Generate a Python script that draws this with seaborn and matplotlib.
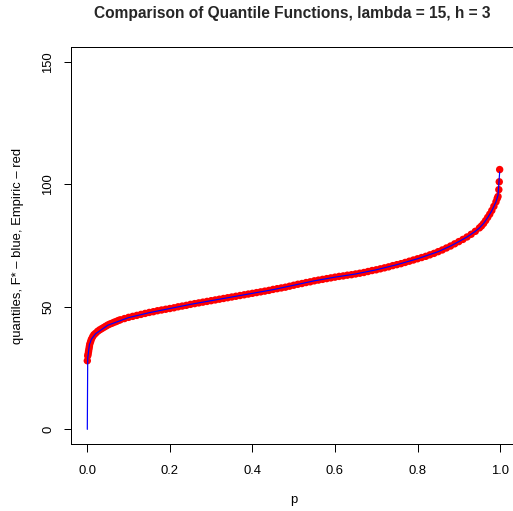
import numpy as np
import pandas as pd
import seaborn as sns
import matplotlib
matplotlib.use("Agg")
import matplotlib.pyplot as plt

emp_p = [0.000, 0.001, 0.002, 0.003, 0.004, 0.005, 0.006, 0.008,
         0.010, 0.013, 0.016, 0.020, 0.025, 0.030, 0.035, 0.040, 0.045,
         0.05, 0.055, 0.06, 0.065, 0.07, 0.075, 0.08, 0.09, 0.10,
         0.11, 0.12, 0.13, 0.14, 0.15, 0.16, 0.17, 0.18, 0.19, 0.20,
         0.21, 0.22, 0.23, 0.24, 0.25, 0.26, 0.27, 0.28, 0.29, 0.30,
         0.31, 0.32, 0.33, 0.34, 0.35, 0.36, 0.37, 0.38, 0.39, 0.40,
         0.41, 0.42, 0.43, 0.44, 0.45, 0.46, 0.47, 0.48, 0.49, 0.50,
         0.51, 0.52, 0.53, 0.54, 0.55, 0.56, 0.57, 0.58, 0.59, 0.60,
         0.61, 0.62, 0.63, 0.64, 0.65, 0.66, 0.67, 0.68, 0.69, 0.70,
         0.71, 0.72, 0.73, 0.74, 0.75, 0.76, 0.77, 0.78, 0.79, 0.80,
         0.81, 0.82, 0.83, 0.84, 0.85, 0.86, 0.87, 0.88, 0.89, 0.90,
         0.91, 0.92, 0.93, 0.94, 0.95, 0.955, 0.96, 0.965, 0.97, 0.975,
         0.98, 0.985, 0.99, 0.993, 0.995, 0.997, 0.998, 0.999]
emp_q = [28.0, 30.0, 30.8, 31.8, 32.8, 33.8, 34.8, 35.8,
         36.8, 37.8, 38.6, 39.2, 40.0, 40.6, 41.1, 41.6, 42.1,
         42.6, 43.0, 43.3, 43.7, 44.0, 44.4, 44.7, 45.2, 45.7,
         46.1, 46.5, 46.9, 47.3, 47.7, 48.0, 48.4, 48.7, 49.0, 49.3,
         49.6, 50.0, 50.3, 50.6, 51.0, 51.3, 51.6, 51.9, 52.2, 52.5,
         52.8, 53.1, 53.4, 53.7, 54.0, 54.3, 54.6, 54.9, 55.2, 55.5,
         55.8, 56.1, 56.4, 56.7, 57.1, 57.4, 57.7, 58.0, 58.4, 58.8,
         59.2, 59.5, 59.9, 60.2, 60.6, 60.9, 61.2, 61.5, 61.8, 62.1,
         62.4, 62.6, 62.9, 63.1, 63.4, 63.7, 64.0, 64.4, 64.8, 65.1,
         65.5, 65.9, 66.3, 66.8, 67.2, 67.6, 68.1, 68.6, 69.1, 69.6,
         70.1, 70.6, 71.2, 71.8, 72.5, 73.2, 74.0, 74.8, 75.7, 76.6,
         77.5, 78.5, 79.6, 80.8, 82.2, 83.0, 84.0, 85.2, 86.5, 87.8,
         89.3, 91.0, 92.8, 94.2, 95.0, 97.8, 101.0, 106.0]

# F* quantiles (blue line)
fstar_p = [0.0, 0.001, 0.005, 0.01, 0.02, 0.05, 0.10, 0.15, 0.20, 0.25,
           0.30, 0.35, 0.40, 0.45, 0.50, 0.55, 0.60, 0.65, 0.70, 0.75,
           0.80, 0.85, 0.88, 0.90, 0.92, 0.94, 0.95, 0.96, 0.97, 0.98,
           0.99, 0.995, 0.999]
fstar_q = [0.0, 29.0, 34.5, 36.8, 39.0, 42.5, 45.6, 47.6, 49.3, 51.0,
           52.5, 54.0, 55.5, 57.0, 58.8, 60.6, 62.1, 63.4, 65.1, 67.2,
           69.6, 72.5, 74.8, 76.6, 78.5, 80.8, 82.2, 84.0, 86.4, 89.2,
           92.8, 95.5, 105.0]

emp = pd.DataFrame({"p": emp_p, "q": emp_q})
fstar = pd.DataFrame({"p": fstar_p, "q": fstar_q})

sns.set_theme(style="white")
plt.rcParams['font.family'] = ['Liberation Sans', 'DejaVu Sans']

fig = plt.figure(figsize=(513 / 72, 511 / 72), dpi=72)
ax = fig.add_axes([0.138, 0.131, 0.869, 0.777])

sns.scatterplot(data=emp, x="p", y="q", ax=ax, color="#FF0000", s=55,
                edgecolor="none", linewidth=0, zorder=2)
sns.lineplot(data=fstar, x="p", y="q", ax=ax, color="#0000FF",
             linewidth=1.2, zorder=3)

ax.set_xlim(-0.04, 1.04)
ax.set_ylim(-6, 156)
ax.set_xticks([0.0, 0.2, 0.4, 0.6, 0.8, 1.0])
ax.set_xticklabels(["0.0", "0.2", "0.4", "0.6", "0.8", "1.0"])
ax.set_yticks([0, 50, 100, 150])
ax.set_yticklabels(["0", "50", "100", "150"], rotation=90, va="center")

for s in ax.spines.values():
    s.set_color("black")
    s.set_linewidth(1.0)

ax.tick_params(axis="both", direction="out", length=7.5, width=1,
               color="black", labelsize=13, labelcolor="black",
               bottom=True, left=True)
ax.tick_params(axis="x", pad=13)
ax.tick_params(axis="y", pad=9)

ax.set_xlabel("p", fontsize=13, labelpad=17, color="black")
ax.set_ylabel("quantiles, F* – blue, Empiric – red", fontsize=13,
              labelpad=18, color="black")
fig.suptitle("Comparison of Quantile Functions, lambda = 15, h = 3",
             fontsize=15.5, fontweight="bold", y=0.988, x=0.57)

fig.savefig("out.png", dpi=72)
